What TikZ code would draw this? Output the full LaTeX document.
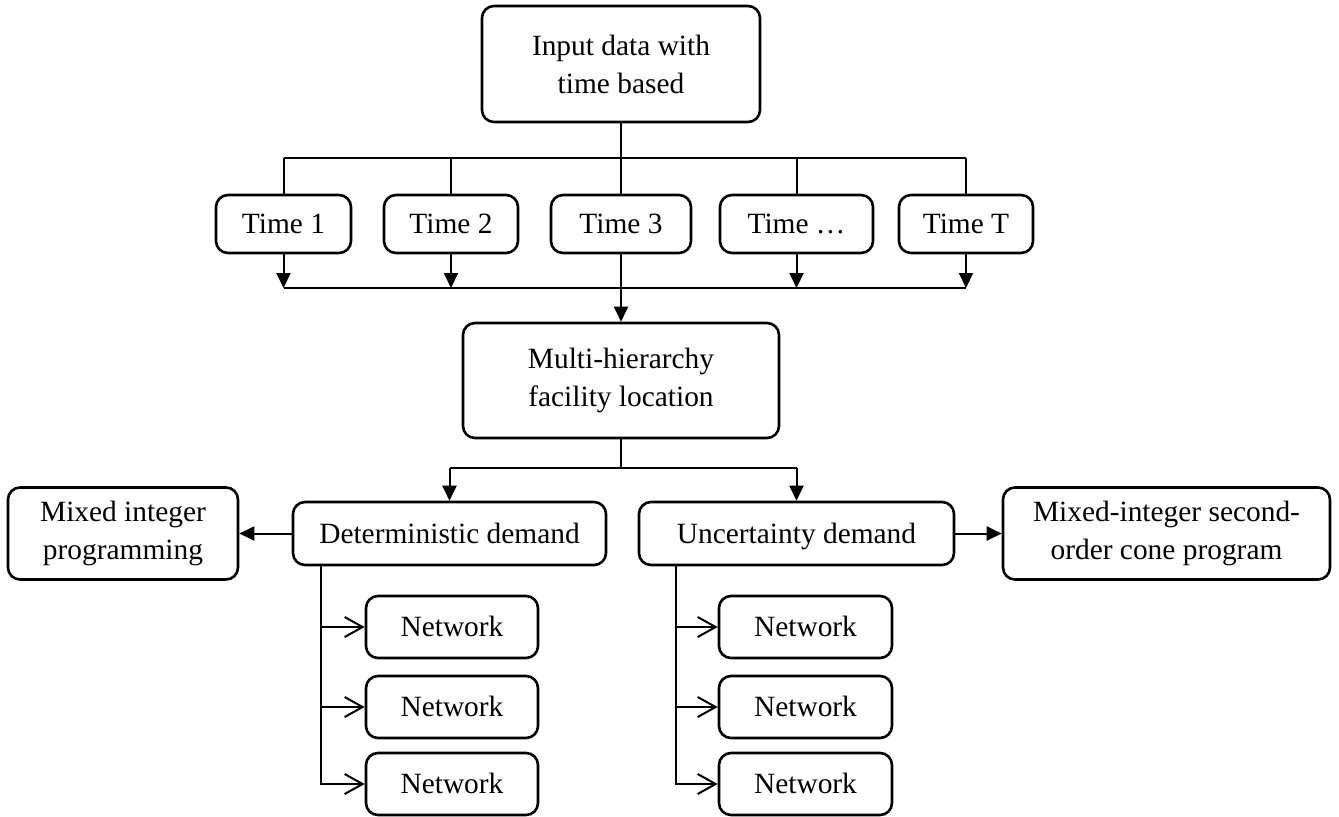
\documentclass[tikz,border=0pt]{standalone}
\usepackage{fontspec}
\setmainfont{Liberation Serif}
\usetikzlibrary{arrows.meta}

\tikzset{
  box/.style={draw, line width=1.3pt, rounded corners=6pt, align=center,
    inner sep=0pt, font=\fontsize{14.7}{19}\selectfont},
  oneline/.style={text height=9.7pt, text depth=0pt},
  link/.style={line width=1pt},
  flow/.style={link, -{Triangle[width=7pt,length=7.5pt]}},
  feed/.style={link, -{Straight Barb[length=9pt,width=10pt]}},
}

\begin{document}
\begin{tikzpicture}[x=0.5pt,y=-0.5pt]
  \useasboundingbox (0,0) rectangle (1339,816);

  \node[box, minimum width=139pt, minimum height=58pt] (input) at (621,64) {Input data with\\time based};

  \foreach \n/\x/\w/\t in {t1/283.5/67.5/Time 1, t2/451/67/Time 2, t3/621/70/Time 3,
                           t4/796.5/76.5/Time …, tT/966/67/Time T}
    \node[box, oneline, minimum width=\w pt, minimum height=29pt] (\n) at (\x,224) {\t};

  \node[box, minimum width=158pt, minimum height=57.5pt] (multi) at (621,380.5) {Multi-hierarchy\\facility location};

  \node[box, oneline, minimum width=156.5pt, minimum height=31.5pt] (det) at (449.5,533.5) {Deterministic demand};
  \node[box, oneline, minimum width=157.5pt, minimum height=31.5pt] (unc) at (796.5,533.5) {Uncertainty demand};
  \node[box, minimum width=115pt, minimum height=46pt] (mip) at (123,533.5) {Mixed integer\\programming};
  \node[box, minimum width=163.5pt, minimum height=46pt] (misocp) at (1166.5,533.5) {Mixed-integer second-\\order cone program};

  \foreach \i/\y in {1/627, 2/707, 3/784} {
    \node[box, oneline, minimum width=86pt, minimum height=31pt] (dn\i) at (452,\y) {Network};
    \node[box, oneline, minimum width=86.5pt, minimum height=31pt] (un\i) at (805.5,\y) {Network};
  }

  % time split and merge
  \coordinate (split) at (621,158);
  \coordinate (join) at (621,288);
  \draw[link] (input) -- (split);
  \draw[link] (t1.north |- split) -- (tT.north |- split);
  \foreach \n in {t1,t2,t3,t4,tT}
    \draw[link] (\n.north |- split) -- (\n.north);
  \draw[link] (t1.south |- join) -- (tT.south |- join);
  \foreach \n in {t1,t2,t4,tT}
    \draw[flow] (\n.south) -- (\n.south |- join);
  \draw[flow] (t3) -- (multi);

  % demand branches
  \coordinate (fork) at (621,468);
  \draw[link] (multi) -- (fork);
  \draw[link] (det.north |- fork) -- (unc.north |- fork);
  \draw[flow] (det.north |- fork) -- (det.north);
  \draw[flow] (unc.north |- fork) -- (unc.north);
  \draw[flow] (det) -- (mip);
  \draw[flow] (unc) -- (misocp);

  % networks
  \coordinate (dtrunk) at (321,0);
  \coordinate (utrunk) at (676,0);
  \foreach \i in {1,2,3} {
    \draw[feed] (det.south -| dtrunk) |- (dn\i);
    \draw[feed] (unc.south -| utrunk) |- (un\i);
  }
\end{tikzpicture}
\end{document}
